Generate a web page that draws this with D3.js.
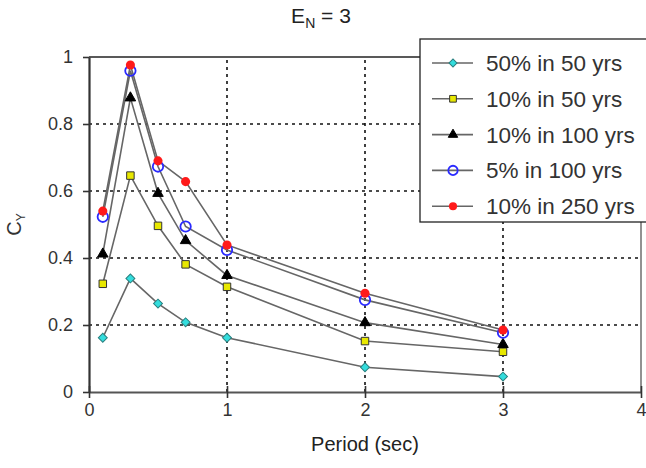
<!DOCTYPE html>
<html>
<head>
<meta charset="utf-8">
<script src="https://cdn.jsdelivr.net/npm/d3@7"></script>
<style>
  html, body { margin: 0; padding: 0; background: #fff; }
  svg { display: block; font-family: "Liberation Sans", Arial, sans-serif; }
</style>
</head>
<body>
<svg id="chart" width="646" height="468"></svg>
<script>
// Period values (sec) shared by every hazard level
const periods = [0.1, 0.3, 0.5, 0.7, 1, 2, 3];

// Yield strength coefficient C_Y for each hazard level
const cy50in50   = [0.162, 0.339, 0.264, 0.208, 0.162, 0.074, 0.046];
const cy10in50   = [0.323, 0.646, 0.496, 0.381, 0.314, 0.152, 0.120];
const cy10in100  = [0.412, 0.878, 0.593, 0.452, 0.348, 0.207, 0.142];
const cy5in100   = [0.523, 0.959, 0.673, 0.494, 0.424, 0.275, 0.177];
const cy10in250  = [0.540, 0.976, 0.690, 0.628, 0.439, 0.295, 0.185];

const seriesNames = ["50% in 50 yrs", "10% in 50 yrs", "10% in 100 yrs", "5% in 100 yrs", "10% in 250 yrs"];
const xTicks = [0, 1, 2, 3, 4];
const yTicks = [0, 0.2, 0.4, 0.6, 0.8, 1];

const series = [
  { name: seriesNames[0], values: cy50in50,  shape: "diamond",  fill: "#33dddd", stroke: "#2a7f7f", size: 40 },
  { name: seriesNames[1], values: cy10in50,  shape: "square",   fill: "#e8e800", stroke: "#333",    size: 56 },
  { name: seriesNames[2], values: cy10in100, shape: "triangle", fill: "#000",    stroke: "#000",    size: 48 },
  { name: seriesNames[3], values: cy5in100,  shape: "circle",   fill: "none",    stroke: "#2a2aff", size: 85 },
  { name: seriesNames[4], values: cy10in250, shape: "circle",   fill: "#ff1a1a", stroke: "none",    size: 65 }
];

const svg = d3.select("#chart");
const margin = { left: 89, top: 57, right: 5, bottom: 76 };
const W = 646, H = 468;
const x = d3.scaleLinear().domain([0, 4]).range([margin.left, W - margin.right]);
const y = d3.scaleLinear().domain([0, 1]).range([H - margin.bottom, margin.top]);

const symbolType = {
  diamond: d3.symbolSquare,
  square: d3.symbolSquare,
  triangle: d3.symbolTriangle,
  circle: d3.symbolCircle
};
// diamonds are squares turned 45 degrees
const rot = s => s.shape === "diamond" ? " rotate(45)" : "";

// Dotted grid
svg.append("g").selectAll("line.h")
  .data(yTicks.filter(v => v > 0 && v < 1))
  .join("line")
  .attr("x1", x(0)).attr("x2", x(4))
  .attr("y1", d => y(d)).attr("y2", d => y(d))
  .attr("stroke", "#111").attr("stroke-width", 1.6)
  .attr("stroke-dasharray", "3,4");
svg.append("g").selectAll("line.v")
  .data(xTicks.filter(v => v > 0 && v < 4))
  .join("line")
  .attr("x1", d => x(d)).attr("x2", d => x(d))
  .attr("y1", y(0)).attr("y2", y(1))
  .attr("stroke", "#111").attr("stroke-width", 1.6)
  .attr("stroke-dasharray", "3,4");

// Plot frame: top and right edges
svg.append("line").attr("x1", x(0)).attr("x2", x(4)).attr("y1", y(1)).attr("y2", y(1))
  .attr("stroke", "#222").attr("stroke-width", 1.6);
svg.append("line").attr("x1", x(4)).attr("x2", x(4)).attr("y1", y(0)).attr("y2", y(1))
  .attr("stroke", "#777").attr("stroke-width", 1.6);

// Axes
const xAxis = svg.append("g")
  .attr("transform", `translate(0,${y(0)})`)
  .call(d3.axisBottom(x).tickValues(xTicks).tickFormat(d3.format("d")).tickSizeInner(6).tickSizeOuter(0).tickPadding(5));
xAxis.selectAll(".tick line").attr("y1", -6).attr("stroke", "#333").attr("stroke-width", 1.6);
xAxis.select(".domain").attr("stroke", "#555").attr("stroke-width", 2.2);
xAxis.selectAll("text").attr("font-size", 18).attr("fill", "#333").attr("font-family", "Liberation Sans, Arial, sans-serif");

const yAxis = svg.append("g")
  .attr("transform", `translate(${x(0)},0)`)
  .call(d3.axisLeft(y).tickValues(yTicks).tickFormat(d => d === 0 || d === 1 ? d3.format("d")(d) : d3.format(".1f")(d)).tickSizeInner(6).tickSizeOuter(0).tickPadding(10));
yAxis.selectAll(".tick line").attr("stroke", "#333").attr("stroke-width", 1.6);
yAxis.select(".domain").attr("stroke", "#333").attr("stroke-width", 2.2);
yAxis.selectAll("text").attr("font-size", 18).attr("fill", "#333").attr("font-family", "Liberation Sans, Arial, sans-serif");

// Series lines and markers
const line = d3.line().x(d => x(d[0])).y(d => y(d[1]));
series.forEach(s => {
  const pts = periods.map((p, i) => [p, s.values[i]]);
  svg.append("path").datum(pts)
    .attr("d", line)
    .attr("fill", "none")
    .attr("stroke", "#666")
    .attr("stroke-width", 1.6);
});
series.forEach(s => {
  const pts = periods.map((p, i) => [p, s.values[i]]);
  svg.append("g").selectAll("path")
    .data(pts)
    .join("path")
    .attr("transform", d => `translate(${x(d[0])},${y(d[1])})${rot(s)}`)
    .attr("d", d3.symbol().type(symbolType[s.shape]).size(s.size))
    .attr("fill", s.fill)
    .attr("stroke", s.stroke)
    .attr("stroke-width", s.shape === "circle" && s.fill === "none" ? 1.8 : 1);
});

// Title: E with subscript N
const title = svg.append("text")
  .attr("x", 321).attr("y", 23)
  .attr("text-anchor", "middle")
  .attr("font-size", 21)
  .attr("fill", "#222");
title.append("tspan").text("E");
title.append("tspan").attr("font-size", 14).attr("dy", 5).text("N");
title.append("tspan").attr("dy", -5).text(" = 3");

// Axis titles
svg.append("text")
  .attr("x", x(2)).attr("y", 451)
  .attr("text-anchor", "middle")
  .attr("font-size", 20)
  .attr("fill", "#222")
  .text("Period (sec)");

const yTitle = svg.append("text")
  .attr("transform", `translate(21,${(y(0) + y(1)) / 2}) rotate(-90)`)
  .attr("text-anchor", "middle")
  .attr("font-size", 20)
  .attr("fill", "#333");
yTitle.append("tspan").text("C");
yTitle.append("tspan").attr("font-size", 12).attr("dy", 4).text("Y");

// Legend
const legend = svg.append("g");
legend.append("rect")
  .attr("x", 420).attr("y", 39)
  .attr("width", 240).attr("height", 183)
  .attr("fill", "#fff")
  .attr("stroke", "#222")
  .attr("stroke-width", 1.3);
series.forEach((s, i) => {
  const cy = 63 + i * 35.8;
  legend.append("line")
    .attr("x1", 432).attr("x2", 473)
    .attr("y1", cy).attr("y2", cy)
    .attr("stroke", "#666").attr("stroke-width", 1.6);
  legend.append("path")
    .attr("transform", `translate(453,${cy})${rot(s)}`)
    .attr("d", d3.symbol().type(symbolType[s.shape]).size(s.size * 0.8))
    .attr("fill", s.fill)
    .attr("stroke", s.stroke)
    .attr("stroke-width", s.shape === "circle" && s.fill === "none" ? 1.8 : 1);
  legend.append("text")
    .attr("x", 486).attr("y", cy + 8)
    .attr("font-size", 22.5)
    .attr("fill", "#333")
    .text(s.name);
});
</script>
</body>
</html>
